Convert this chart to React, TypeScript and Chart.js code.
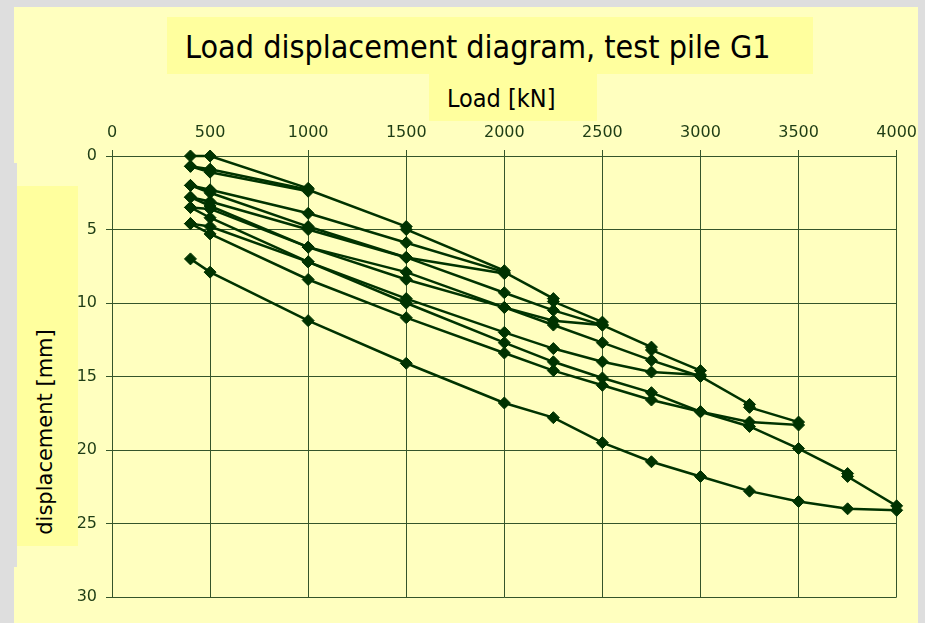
import React, { useEffect, useRef } from "react";
import { Chart, registerables } from "chart.js";

Chart.register(...registerables);

// Load steps [kN] and displacements [mm] of each load cycle (reload + unload)
const cycle1Load = [400, 500, 1000, 1000, 500, 400];
const cycle1Disp = [0.0, 0.0, 2.2, 2.4, 1.1, 0.7];

const cycle2Load = [400, 500, 1000, 1500, 1500, 2000, 2000, 1500, 1000, 500, 400];
const cycle2Disp = [0.7, 0.9, 2.3, 4.8, 5.0, 7.8, 8.0, 6.9, 4.8, 2.5, 2.0];

const cycle3Load = [400, 500, 1000, 1500, 2000, 2250, 2250, 2500, 2500, 2250, 2000, 1500, 1000, 500, 400];
const cycle3Disp = [2.0, 2.3, 3.9, 5.9, 7.9, 9.7, 9.9, 11.3, 11.5, 11.2, 10.3, 8.4, 6.2, 3.4, 2.8];

const cycle4Load = [400, 500, 1000, 1500, 2000, 2250, 2500, 2750, 2750, 3000, 3000, 2750, 2500, 2250, 2000, 1500, 1000, 500, 400];
const cycle4Disp = [2.8, 3.1, 5.0, 6.9, 9.3, 10.5, 11.5, 13.0, 13.2, 14.6, 14.9, 14.7, 14.0, 13.1, 12.0, 9.7, 7.2, 4.2, 3.5];

const cycle5Load = [400, 500, 1000, 1500, 2000, 2250, 2500, 2750, 3000, 3250, 3250, 3500, 3500, 3250, 3000, 2750, 2500, 2250, 2000, 1500, 1000, 500, 400];
const cycle5Disp = [3.5, 3.6, 6.2, 7.9, 10.3, 11.5, 12.7, 13.9, 15.0, 16.9, 17.1, 18.1, 18.3, 18.1, 17.4, 16.6, 15.6, 14.6, 13.4, 11.0, 8.4, 5.3, 4.6];

const cycle6Load = [400, 500, 1000, 1500, 2000, 2250, 2500, 2750, 3000, 3250, 3500, 3750, 3750, 4000, 4000, 3750, 3500, 3250, 3000, 2750, 2500, 2250, 2000, 1500, 1000, 500, 400];
const cycle6Disp = [4.6, 4.8, 7.2, 10.0, 12.7, 14.0, 15.1, 16.1, 17.4, 18.4, 19.9, 21.6, 21.8, 23.8, 24.1, 24.0, 23.5, 22.8, 21.8, 20.8, 19.5, 17.8, 16.8, 14.1, 11.2, 7.9, 7.0];

const cycles = [
  { load: cycle1Load, disp: cycle1Disp },
  { load: cycle2Load, disp: cycle2Disp },
  { load: cycle3Load, disp: cycle3Disp },
  { load: cycle4Load, disp: cycle4Disp },
  { load: cycle5Load, disp: cycle5Disp },
  { load: cycle6Load, disp: cycle6Disp },
];

const xTicks = [0, 500, 1000, 1500, 2000, 2500, 3000, 3500, 4000];
const yTicks = [0, 5, 10, 15, 20, 25, 30];

const TITLE = "Load displacement diagram, test pile G1";
const X_TITLE = "Load [kN]";
const Y_TITLE = "displacement [mm]";

const INK = "#003300";
const GRID = "#35552a";
const LABEL = "#1e3d14";
const Y_AXIS_W = 40;
const X_AXIS_H = 36;

export default function App() {
  const ref = useRef<HTMLCanvasElement | null>(null);

  useEffect(() => {
    document.body.style.margin = "0";
    document.body.style.background = "#dedede";
    const canvas = ref.current;
    if (!canvas) return;
    const chart = new Chart(canvas, {
      type: "scatter",
      data: {
        datasets: cycles.map((c, i) => ({
          label: "cycle " + (i + 1),
          data: c.load.map((x, j) => ({ x, y: c.disp[j] })),
          showLine: true,
          clip: false,
          borderColor: INK,
          backgroundColor: INK,
          borderWidth: 2.5,
          pointStyle: "rectRot",
          pointRadius: 6,
          pointBorderWidth: 1,
          pointBorderColor: INK,
          pointBackgroundColor: INK,
          tension: 0,
        })),
      },
      options: {
        animation: false,
        responsive: false,
        maintainAspectRatio: false,
        layout: {
          padding: { left: 112 - Y_AXIS_W, top: 156 - X_AXIS_H, right: 28, bottom: 26 },
        },
        plugins: {
          legend: { display: false },
          tooltip: { enabled: false },
          title: { display: false },
        },
        scales: {
          x: {
            type: "linear",
            position: "top",
            min: 0,
            max: 4000,
            afterFit: (s: any) => {
              s.height = X_AXIS_H;
            },
            afterBuildTicks: (s: any) => {
              s.ticks = xTicks.map((v) => ({ value: v }));
            },
            ticks: {
              color: LABEL,
              padding: 8,
              font: { family: "DejaVu Sans", size: 16 },
              maxRotation: 0,
              callback: (v: any) => String(v),
            },
            grid: { color: GRID, lineWidth: 1, tickLength: 6, tickColor: GRID },
            border: { display: true, color: GRID, width: 1 },
            title: { display: false },
          },
          y: {
            type: "linear",
            reverse: true,
            min: 0,
            max: 30,
            afterFit: (s: any) => {
              s.width = Y_AXIS_W;
            },
            afterBuildTicks: (s: any) => {
              s.ticks = yTicks.map((v) => ({ value: v }));
            },
            ticks: {
              color: LABEL,
              padding: 9,
              font: { family: "DejaVu Sans", size: 16 },
              callback: (v: any) => String(v),
            },
            grid: { color: GRID, lineWidth: 1, tickLength: 6, tickColor: GRID },
            border: { display: true, color: GRID, width: 1 },
            title: { display: false },
          },
        },
      },
    });
    return () => chart.destroy();
  }, []);

  const abs: React.CSSProperties = { position: "absolute" };
  return (
    <div style={{ position: "relative", width: 925, height: 623, background: "#dedede", overflow: "hidden" }}>
      <div style={{ ...abs, left: 14, top: 7, width: 904, height: 616, background: "#ffffbf" }} />
      <div style={{ ...abs, left: 14, top: 163, width: 3, height: 404, background: "#dedede" }} />
      <div
        style={{
          ...abs,
          left: 167,
          top: 17,
          width: 646,
          height: 57,
          background: "#ffff9e",
          fontFamily: "'DejaVu Sans Condensed', 'DejaVu Sans', sans-serif",
          fontSize: 32,
          color: "#000",
          lineHeight: "60px",
          paddingLeft: 18,
          boxSizing: "border-box",
          whiteSpace: "nowrap",
        }}
      >
        {TITLE}
      </div>
      <div
        style={{
          ...abs,
          left: 429,
          top: 74,
          width: 168,
          height: 47,
          background: "#ffff9e",
          fontFamily: "'DejaVu Sans Condensed', 'DejaVu Sans', sans-serif",
          fontSize: 25,
          color: "#000",
          lineHeight: "50px",
          paddingLeft: 18,
          boxSizing: "border-box",
          whiteSpace: "nowrap",
        }}
      >
        {X_TITLE}
      </div>
      <div style={{ ...abs, left: 17, top: 186, width: 61, height: 360, background: "#ffff9e" }} />
      <div
        style={{
          ...abs,
          left: 45,
          top: 432,
          transform: "translate(-50%, -50%) rotate(-90deg)",
          fontFamily: "'DejaVu Sans', sans-serif",
          fontSize: 21,
          color: "#000",
          whiteSpace: "nowrap",
        }}
      >
        {Y_TITLE}
      </div>
      <canvas ref={ref} width={925} height={623} style={{ ...abs, left: 0, top: 0, width: 925, height: 623 }} />
    </div>
  );
}
